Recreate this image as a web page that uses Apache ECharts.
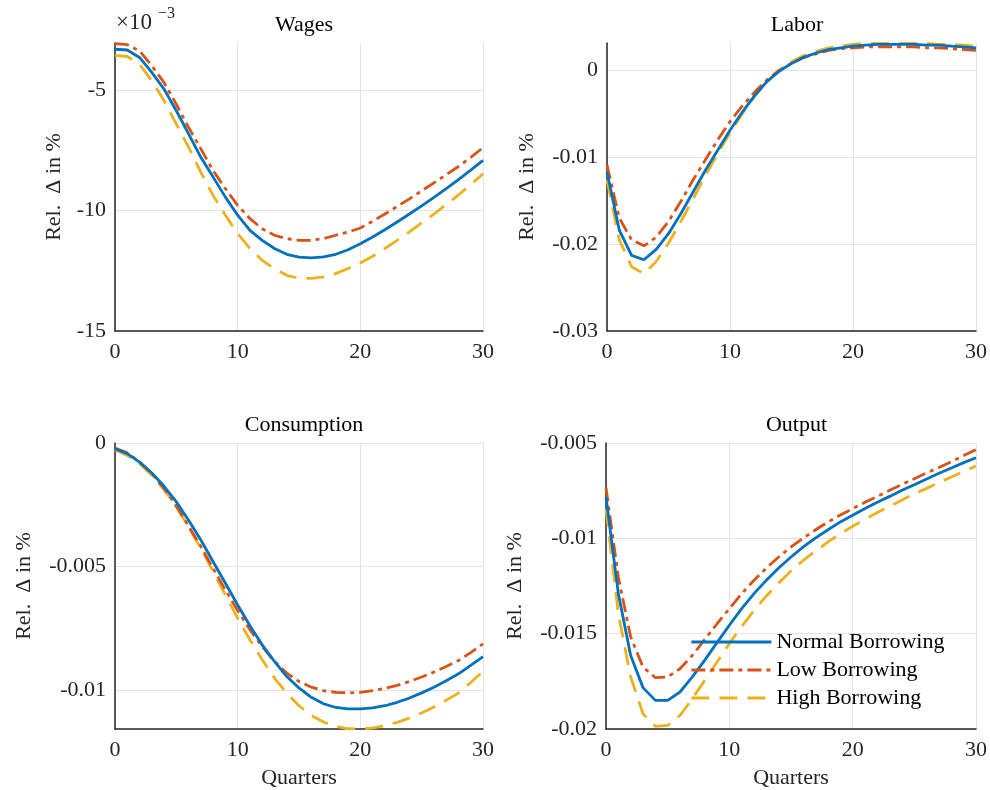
<!DOCTYPE html>
<html>
<head>
<meta charset="utf-8">
<script src="https://cdn.jsdelivr.net/npm/echarts@6/dist/echarts.min.js"></script>
<style>
  html, body { margin: 0; padding: 0; background: #fff; }
  #chart { width: 990px; height: 790px; }
</style>
</head>
<body>
<div id="chart"></div>
<script>
var quarters = [0,1,2,3,4,5,6,7,8,9,10,11,12,13,14,15,16,17,18,19,20,21,22,23,24,25,26,27,28,29,30];
var seriesNames = ['Normal Borrowing', 'Low Borrowing', 'High Borrowing'];
var panelTitles = ['Wages', 'Labor', 'Consumption', 'Output'];

// wages, in units of 1e-3
var wagesNormal = [-3.32,-3.35,-3.66,-4.28,-4.97,-5.87,-6.83,-7.80,-8.62,-9.45,-10.20,-10.83,-11.24,-11.58,-11.82,-11.94,-11.97,-11.93,-11.82,-11.63,-11.38,-11.10,-10.80,-10.48,-10.15,-9.81,-9.46,-9.10,-8.72,-8.33,-7.93];
var wagesLow = [-3.09,-3.13,-3.39,-4.00,-4.70,-5.60,-6.56,-7.45,-8.35,-9.10,-9.79,-10.34,-10.76,-11.03,-11.17,-11.24,-11.24,-11.17,-11.03,-10.90,-10.73,-10.45,-10.15,-9.84,-9.52,-9.19,-8.86,-8.52,-8.18,-7.80,-7.40];
var wagesHigh = [-3.57,-3.62,-3.94,-4.63,-5.45,-6.42,-7.38,-8.42,-9.38,-10.20,-10.96,-11.58,-12.07,-12.41,-12.69,-12.82,-12.82,-12.76,-12.62,-12.41,-12.18,-11.90,-11.58,-11.24,-10.89,-10.52,-10.15,-9.76,-9.36,-8.93,-8.48];

var laborNormal = [-0.0117,-0.0184,-0.0213,-0.0218,-0.0206,-0.0188,-0.0165,-0.0140,-0.0115,-0.0092,-0.0069,-0.0048,-0.0029,-0.0013,-0.0001,0.0008,0.0015,0.0020,0.0024,0.0026,0.0028,0.0029,0.0030,0.0030,0.0030,0.0030,0.0029,0.0029,0.0028,0.0027,0.0026];
var laborLow = [-0.0109,-0.0170,-0.0195,-0.0202,-0.0192,-0.0174,-0.0151,-0.0126,-0.0103,-0.0080,-0.0059,-0.0041,-0.0025,-0.0011,0.0000,0.0008,0.0015,0.0019,0.0023,0.0025,0.0026,0.0027,0.0027,0.0027,0.0027,0.0027,0.0026,0.0026,0.0025,0.0024,0.0023];
var laborHigh = [-0.0126,-0.0195,-0.0226,-0.0234,-0.0220,-0.0199,-0.0174,-0.0148,-0.0121,-0.0096,-0.0072,-0.0050,-0.0030,-0.0013,0.0000,0.0010,0.0017,0.0022,0.0026,0.0028,0.0030,0.0031,0.0031,0.0031,0.0031,0.0031,0.0031,0.0030,0.0030,0.0029,0.0028];

var consNormal = [-0.00023,-0.00043,-0.00077,-0.00121,-0.00175,-0.00238,-0.00312,-0.00392,-0.00480,-0.00567,-0.00655,-0.00739,-0.00816,-0.00883,-0.00944,-0.00990,-0.01028,-0.01054,-0.01069,-0.01075,-0.01075,-0.01071,-0.01062,-0.01048,-0.01031,-0.01010,-0.00987,-0.00961,-0.00933,-0.00899,-0.00863];
var consLow = [-0.00020,-0.00040,-0.00077,-0.00124,-0.00184,-0.00255,-0.00336,-0.00419,-0.00507,-0.00594,-0.00677,-0.00755,-0.00823,-0.00883,-0.00930,-0.00964,-0.00987,-0.01001,-0.01008,-0.01010,-0.01008,-0.01001,-0.00992,-0.00980,-0.00964,-0.00946,-0.00926,-0.00903,-0.00879,-0.00847,-0.00812];
var consHigh = [-0.00027,-0.00050,-0.00083,-0.00130,-0.00188,-0.00258,-0.00339,-0.00426,-0.00520,-0.00614,-0.00708,-0.00796,-0.00876,-0.00950,-0.01011,-0.01062,-0.01101,-0.01128,-0.01145,-0.01155,-0.01156,-0.01152,-0.01142,-0.01129,-0.01112,-0.01091,-0.01067,-0.01040,-0.01011,-0.00968,-0.00923];

var outNormal = [-0.00783,-0.01290,-0.01614,-0.01783,-0.01850,-0.01850,-0.01806,-0.01727,-0.01640,-0.01547,-0.01456,-0.01369,-0.01290,-0.01220,-0.01156,-0.01098,-0.01045,-0.00998,-0.00955,-0.00914,-0.00879,-0.00844,-0.00811,-0.00780,-0.00748,-0.00719,-0.00689,-0.00659,-0.00631,-0.00603,-0.00577];
var outLow = [-0.00734,-0.01203,-0.01517,-0.01675,-0.01731,-0.01727,-0.01684,-0.01614,-0.01531,-0.01448,-0.01369,-0.01290,-0.01220,-0.01156,-0.01098,-0.01045,-0.00998,-0.00955,-0.00914,-0.00878,-0.00844,-0.00811,-0.00780,-0.00748,-0.00717,-0.00687,-0.00657,-0.00628,-0.00598,-0.00566,-0.00535];
var outHigh = [-0.00844,-0.01395,-0.01727,-0.01920,-0.01986,-0.01981,-0.01929,-0.01841,-0.01745,-0.01649,-0.01552,-0.01462,-0.01378,-0.01302,-0.01234,-0.01171,-0.01115,-0.01066,-0.01019,-0.00976,-0.00937,-0.00900,-0.00865,-0.00832,-0.00799,-0.00767,-0.00738,-0.00708,-0.00678,-0.00649,-0.00621];

// tick values per panel
var xTicks = [0, 10, 20, 30];
var wagesTicks = [-15, -10, -5];
var laborTicks = [-0.03, -0.02, -0.01, 0];
var consTicks = [-0.01, -0.005, 0];
var outTicks = [-0.02, -0.015, -0.01, -0.005];

var colors = ['#0072BD', '#D95319', '#EDB120'];
var dashes = ['solid', [14, 5, 4, 5], [18, 10]];
var font = '"Liberation Serif", "DejaVu Serif", serif';
var axisCol = '#262626';

var grids = [
    { left: 115, top: 43, width: 368, height: 288 },
    { left: 607, top: 43, width: 370, height: 288 },
    { left: 115, top: 443, width: 368, height: 286 },
    { left: 606, top: 443, width: 371, height: 286 }
];
var yRanges = [[-15, -3.06], [-0.03, 0.00315], [-0.01156, 0], [-0.02, -0.005]];
var yTickSets = [wagesTicks, laborTicks, consTicks, outTicks];
var nameGaps = [50, 69, 80, 80];
var panelData = [
    [wagesNormal, wagesLow, wagesHigh],
    [laborNormal, laborLow, laborHigh],
    [consNormal, consLow, consHigh],
    [outNormal, outLow, outHigh]
];

function fmt(v) {
    return String(parseFloat(v.toFixed(5)));
}

var xAxes = [], yAxes = [], series = [], titles = [];
for (var p = 0; p < 4; p++) {
    var g = grids[p];
    titles.push({
        text: panelTitles[p],
        left: g.left + g.width / 2,
        top: g.top - 34,
        textAlign: 'center',
        textStyle: { fontFamily: font, fontSize: 22, fontWeight: 'normal', color: '#000' }
    });
    xAxes.push({
        type: 'value', gridIndex: p, min: 0, max: 30,
        name: p >= 2 ? 'Quarters' : '',
        nameLocation: 'middle', nameGap: 38,
        nameTextStyle: { fontFamily: font, fontSize: 22, color: axisCol },
        axisLine: { onZero: false, lineStyle: { color: axisCol, width: 1.5 } },
        axisTick: { show: false, customValues: xTicks },
        axisLabel: { customValues: xTicks, fontFamily: font, fontSize: 22, color: axisCol, margin: 10 },
        splitLine: { show: true, lineStyle: { color: '#e3e3e3', width: 1 } }
    });
    yAxes.push({
        type: 'value', gridIndex: p, min: yRanges[p][0], max: yRanges[p][1],
        name: 'Rel.\u2002\u0394 in %',
        nameLocation: 'middle', nameRotate: 90, nameGap: nameGaps[p],
        nameTextStyle: { fontFamily: font, fontSize: 22, color: axisCol },
        axisLine: { show: true, onZero: false, lineStyle: { color: axisCol, width: 1.5 } },
        axisTick: { show: false, customValues: yTickSets[p] },
        axisLabel: { customValues: yTickSets[p], formatter: fmt, fontFamily: font, fontSize: 22, color: axisCol, margin: 9 },
        splitLine: { show: true, lineStyle: { color: '#e3e3e3', width: 1 } }
    });
    for (var s = 0; s < 3; s++) {
        var pts = [];
        for (var i = 0; i < quarters.length; i++) {
            pts.push([quarters[i], panelData[p][s][i]]);
        }
        series.push({
            name: seriesNames[s],
            type: 'line',
            xAxisIndex: p, yAxisIndex: p,
            data: pts,
            symbol: 'none',
            z: 3 - s,
            lineStyle: { color: colors[s], width: 2.8, type: dashes[s] },
            itemStyle: { color: colors[s] },
            animation: false
        });
    }
}

var chart = echarts.init(document.getElementById('chart'));
chart.setOption({
    backgroundColor: '#fff',
    animation: false,
    title: titles,
    grid: grids,
    xAxis: xAxes,
    yAxis: yAxes,
    series: series,
    legend: {
        data: seriesNames,
        orient: 'vertical',
        left: 690, top: 631,
        padding: 0,
        itemWidth: 80, itemHeight: 14, itemGap: 6,
        itemStyle: { opacity: 0 },
        lineStyle: { width: 2.8 },
        textStyle: { fontFamily: font, fontSize: 22, color: '#000' }
    },
    graphic: [
        { type: 'text', left: 116, top: 11, style: { text: '\u00d710', fontFamily: font, fontSize: 23, fill: axisCol } },
        { type: 'text', left: 158, top: 6, style: { text: '\u22123', fontFamily: font, fontSize: 16, fill: axisCol } }
    ]
});
</script>
</body>
</html>
